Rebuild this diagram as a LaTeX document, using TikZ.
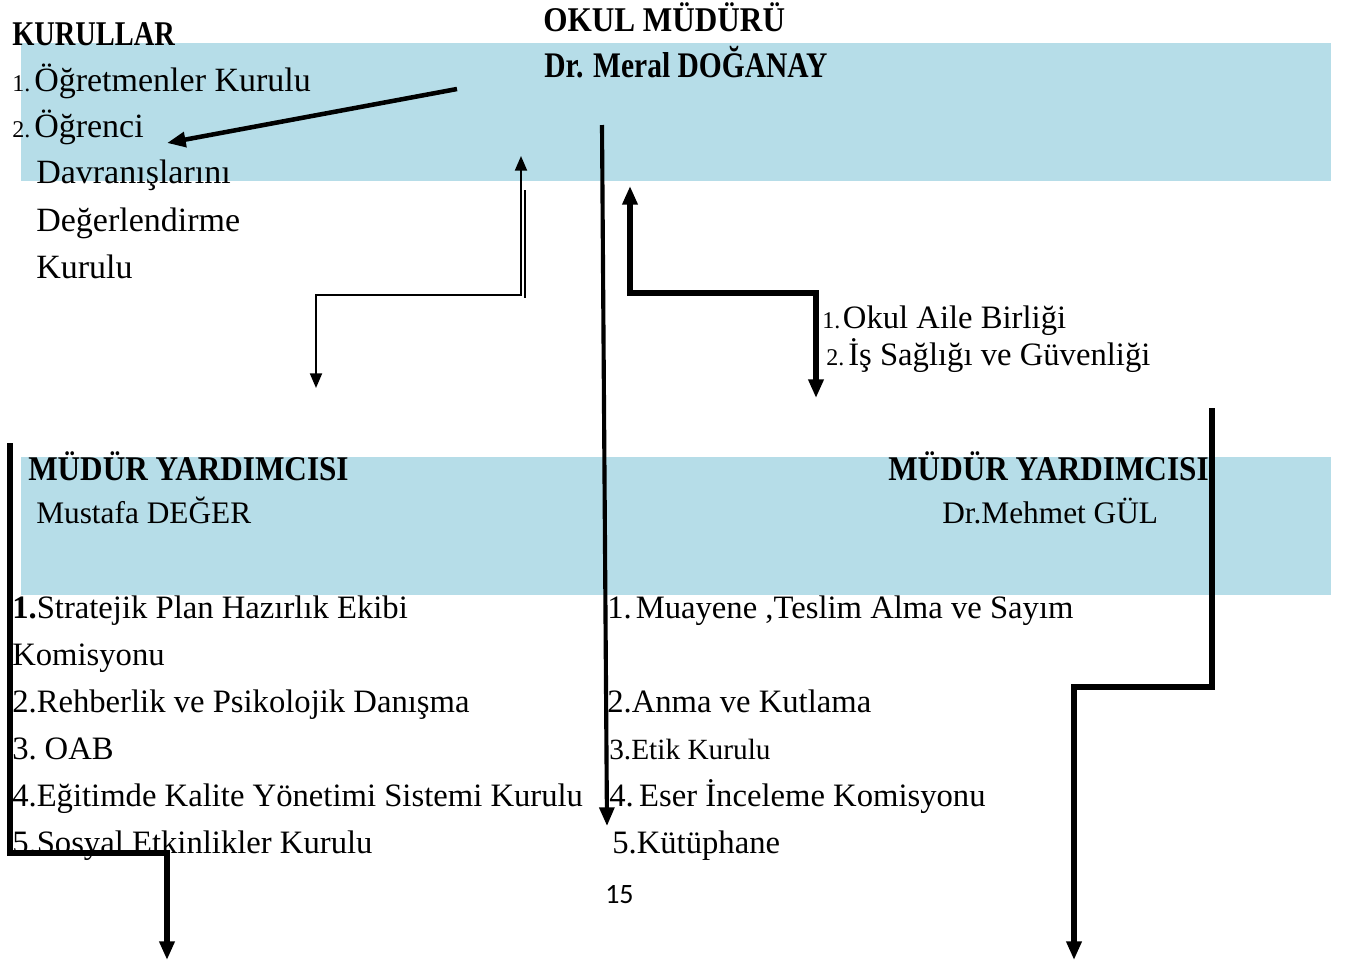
\documentclass[tikz,border=0pt]{standalone}
\usepackage{fontspec}
\setmainfont{Liberation Serif}
\newfontfamily\baslikfont[FakeStretch=0.9]{Liberation Serif Bold}
\newfontfamily\darbaslikfont[FakeStretch=0.82]{Liberation Serif Bold}
\newfontfamily\sayfafont{Carlito}
\usepackage{xcolor}
\usetikzlibrary{arrows.meta}
\definecolor{bantmavi}{HTML}{B6DDE8}
\tikzset{
  bant/.style={fill=bantmavi},
  baslik/.style={font=\baslikfont\fontsize{26}{30}\selectfont, anchor=base west, inner sep=0pt},
  metin/.style={font=\fontsize{24.5}{28}\selectfont, anchor=base west, inner sep=0pt},
  kucuk/.style={font=\fontsize{22}{26}\selectfont, anchor=base west, inner sep=0pt},
  ok/.style={-{Triangle[length=14pt,width=11pt]}, line width=3.4pt},
  ciftok/.style={{Triangle[length=14pt,width=11pt]}-{Triangle[length=14pt,width=11pt]}, line width=3.9pt, line join=miter},
  inceok/.style={{Triangle[length=11pt,width=9pt]}-{Triangle[length=11pt,width=9pt]}, line width=1.5pt, line join=miter},
  kalinok/.style={-{Triangle[length=14pt,width=11pt]}, line width=3.9pt, line join=miter},
}
\newcommand{\sira}[1]{{\fontsize{18}{20}\selectfont #1}}

\begin{document}
\begin{tikzpicture}[x=0.75pt, y=-0.75pt]
\useasboundingbox (0,0) rectangle (1349,961);
% mavi bantlar
\fill[bant] (21,43) rectangle (1331,181);
\fill[bant] (21,457) rectangle (1331,595);

% ust kisim
\node[baslik, font=\darbaslikfont\fontsize{26}{30}\selectfont] (kurullar) at (12,45) {KURULLAR};
\node[baslik] (mudur) at (543,31) {OKUL MÜDÜRÜ};
\node[baslik, font=\darbaslikfont\fontsize{27}{30}\selectfont] (mudurad) at (544,77) {Dr. Meral DOĞANAY};
\node[metin, font=\fontsize{25.5}{28}\selectfont] (k1) at (12,91) {\sira{1.}\hspace{3pt}Öğretmenler Kurulu};
\node[metin, font=\fontsize{25.5}{28}\selectfont] (k2) at (12,137) {\sira{2.}\hspace{3pt}Öğrenci};
\node[metin, font=\fontsize{25.5}{28}\selectfont] (k2b) at (36,183) {Davranışlarını};
\node[metin, font=\fontsize{25.5}{28}\selectfont] (k2c) at (36,231) {Değerlendirme};
\node[metin, font=\fontsize{25.5}{28}\selectfont] (k2d) at (36,278) {Kurulu};
\node[metin] (b1) at (822,328) {\sira{1.}\hspace{2pt}Okul Aile Birliği};
\node[metin] (b2) at (826,365) {\sira{2.}\hspace{3pt}İş Sağlığı ve Güvenliği};

% mudur yardimcilari
\node[baslik] (yrd1) at (28,480) {MÜDÜR YARDIMCISI};
\node[metin, font=\fontsize{23.5}{28}\selectfont] (yrd1ad) at (36,523) {Mustafa DEĞER};
\node[baslik] (yrd2) at (888,480) {MÜDÜR YARDIMCISI};
\node[metin, font=\fontsize{23.5}{28}\selectfont] (yrd2ad) at (942,523) {Dr.Mehmet GÜL};

% sol liste
\node[metin] (s1) at (12,618) {\textbf{1.}Stratejik Plan Hazırlık Ekibi};
\node[metin] (s1b) at (12,665) {Komisyonu};
\node[metin] (s2) at (12,712) {2.Rehberlik ve Psikolojik Danışma};
\node[metin] (s3) at (12,759) {3.\hspace{6pt}OAB};
\node[metin] (s4) at (12,806) {4.Eğitimde Kalite Yönetimi Sistemi Kurulu};
\node[metin] (s5) at (12,853) {5.Sosyal Etkinlikler Kurulu};

% sag liste
\node[metin] (r1) at (607,618) {1.\hspace{3pt}Muayene ,Teslim Alma ve Sayım};
\node[metin] (r2) at (607,712) {2.Anma ve Kutlama};
\node[kucuk] (r3) at (609,759) {3.Etik Kurulu};
\node[metin] (r4) at (609,806) {4.\hspace{4pt}Eser İnceleme Komisyonu};
\node[metin] (r5) at (612,853) {5.Kütüphane};
\node[font=\sayfafont\fontsize{21}{24}\selectfont, anchor=base west, inner sep=0pt] (sayfa) at (605,903) {15};

% oklar
\coordinate (d1) at (457,89);
\coordinate (d2) at (167,143);
\draw[ok] (d1) -- (d2);

\coordinate (i1) at (521,156);
\coordinate (i2) at (521,295);
\coordinate (i3) at (316,295);
\coordinate (i4) at (316,388);
\draw[inceok] (i1) -- (i2) -- (i3) -- (i4);
\coordinate (e1) at (525,190);
\coordinate (e2) at (525,298);
\draw[line width=0.8pt] (e1) -- (e2);

\coordinate (o1) at (602,125);
\coordinate (o2) at (607,826);
\draw[ok, line width=3.1pt] (o1) -- (o2);

\coordinate (a1) at (630,186);
\coordinate (a2) at (630,293);
\coordinate (a3) at (816,293);
\coordinate (a4) at (816,398);
\draw[ciftok] (a1) -- (a2) -- (a3) -- (a4);

\coordinate (r1a) at (1212,408);
\coordinate (r1b) at (1212,687);
\coordinate (r1c) at (1074,687);
\coordinate (r1d) at (1074,960);
\draw[kalinok] (r1a) -- (r1b) -- (r1c) -- (r1d);

\coordinate (l1a) at (10,443);
\coordinate (l1b) at (10,853);
\coordinate (l1c) at (167,853);
\coordinate (l1d) at (167,960);
\draw[kalinok] (l1a) -- (l1b) -- (l1c) -- (l1d);
\end{tikzpicture}
\end{document}
